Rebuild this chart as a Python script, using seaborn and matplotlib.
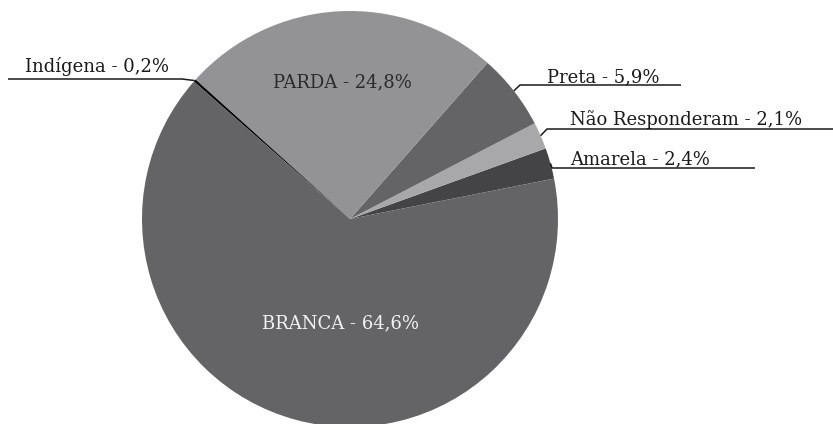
import numpy as np
import matplotlib.pyplot as plt
import seaborn as sns

# dados do gráfico (cor/raça)
categorias = ["Amarela", "Não Responderam", "Preta", "PARDA", "Indígena", "BRANCA"]
percentuais = [2.4, 2.1, 5.9, 24.8, 0.2, 64.6]
cores = ["#444446", "#a8a8aa", "#646466", "#939396", "#000000", "#646466"]

sns.set_theme(style="white")
plt.rcParams['font.family'] = ['DejaVu Serif', 'Liberation Serif']

fig = plt.figure(figsize=(8.33, 4.24), dpi=100)
ax = fig.add_axes([0, 0, 1, 1])

wedges, _ = ax.pie(percentuais, colors=cores, startangle=11.2, counterclock=True,
                   wedgeprops=dict(linewidth=0))

# pixels -> dados (centro em 350,219; raio 208 px)
def px(x, y):
    return (x - 350) / 208, (219 - y) / 208

ax.set_aspect('auto')
ax.set_xlim(-350 / 208, (833 - 350) / 208)
ax.set_ylim(-(424 - 219) / 208, 219 / 208)
ax.axis('off')

rotulo = {c: f"{c} - {p:.1f}%".replace(".", ",") for c, p in zip(categorias, percentuais)}
fs = 13

# rótulos internos
ax.text(*px(342, 87), rotulo["PARDA"], color="#2a2a2a", fontsize=fs, ha="center", va="baseline")
ax.text(*px(341, 328), rotulo["BRANCA"], color="#f2f2f2", fontsize=fs, ha="center", va="baseline")

# rótulos externos com linha de chamada
externos = {
    "Indígena": dict(cotovelo=(182, 79), fim=8, texto=(25, 72)),
    "Preta": dict(cotovelo=(520, 85), fim=681, texto=(547, 82)),
    "Não Responderam": dict(cotovelo=(547, 129), fim=833, texto=(570, 125)),
    "Amarela": dict(cotovelo=(552, 168), fim=755, texto=(570, 164)),
}
for w, c in zip(wedges, categorias):
    if c not in externos:
        continue
    cfg = externos[c]
    ang = np.deg2rad((w.theta1 + w.theta2) / 2)
    x0, y0 = np.cos(ang), np.sin(ang)
    xe, ye = px(*cfg["cotovelo"])
    xf, _ = px(cfg["fim"], 0)
    ax.plot([x0, xe, xf], [y0, ye, ye], color="#1a1a1a", lw=1.1, solid_capstyle="butt")
    ax.text(*px(*cfg["texto"]), rotulo[c], color="#1a1a1a", fontsize=fs, ha="left", va="baseline")

fig.savefig("out.png", dpi=100, facecolor="white")
